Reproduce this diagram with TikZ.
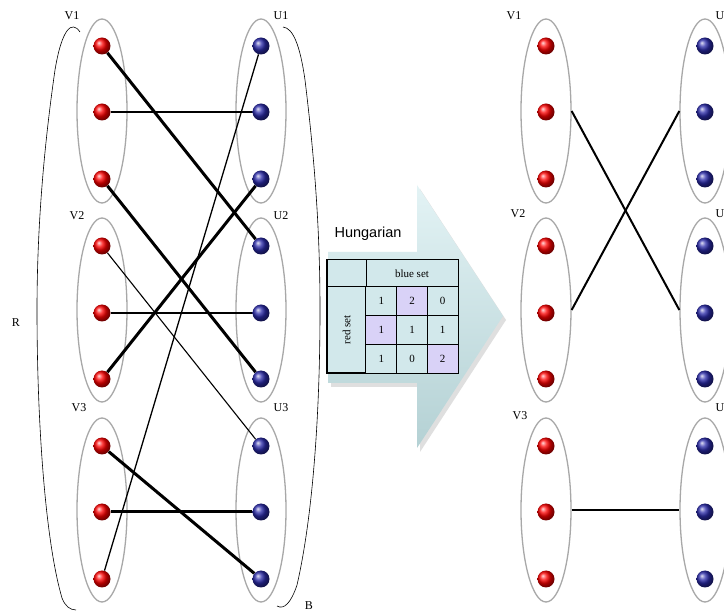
\documentclass[tikz,border=0pt]{standalone}
\usepackage{fontspec}
\setmainfont{Liberation Serif}
\newfontfamily\hungfont{Liberation Sans}
\usetikzlibrary{shapes.geometric}
\definecolor{ArrowTop}{HTML}{E3F3F5}
\definecolor{ArrowBot}{HTML}{B4D1D4}
\definecolor{CellBlue}{HTML}{D2E8EB}
\definecolor{CellLav}{HTML}{D9D2F7}
\definecolor{RimGray}{HTML}{A8A8A8}
\definecolor{DotBlue}{HTML}{2A2AAA}

\begin{document}
\begin{tikzpicture}[x=1pt,y=-1pt,every node/.style={font=\fontsize{12}{14}\selectfont},
  group/.style={ellipse,draw=RimGray,line width=1.3pt,fill=white,minimum width=50pt,minimum height=184pt,inner sep=0pt},
  reddot/.style={circle,shading=ball,ball color=red,minimum size=17pt,inner sep=0pt},
  bluedot/.style={circle,shading=ball,ball color=DotBlue,minimum size=17pt,inner sep=0pt},
  cell/.style={draw,line width=1pt,fill=CellBlue,minimum width=30.67pt,minimum height=28.67pt,inner sep=0pt,font=\fontsize{11}{13}\selectfont},
  pick/.style={cell,fill=CellLav}]
  \fill[white] (0,0) rectangle (724,612);
  \useasboundingbox (0,0) rectangle (724,612);

  % the two sets, before
  \node[group] (lV1) at (102,111) {};
  \node[group] (lV2) at (102,310) {};
  \node[group] (lV3) at (102,510) {};
  \node[group] (lU1) at (261,111) {};
  \node[group] (lU2) at (261,310) {};
  \node[group] (lU3) at (261,510) {};
  % after the assignment
  \node[group] (rV1) at (546,111) {};
  \node[group] (rV2) at (546,310) {};
  \node[group] (rV3) at (546,510) {};
  \node[group] (rU1) at (705,111) {};
  \node[group] (rU2) at (705,310) {};
  \node[group] (rU3) at (705,510) {};

  \foreach \y [count=\i] in {46,112,179,246,313,379,446,512,579} {
    \node[reddot] (lr\i) at (102,\y) {};
    \node[bluedot] (lb\i) at (261,\y) {};
    \node[reddot] (rr\i) at (546,\y) {};
    \node[bluedot] (rb\i) at (705,\y) {};
  }

  \node (tV1) at (72,16) {V1};
  \node (tV2) at (77,216) {V2};
  \node (tV3) at (79,408) {V3};
  \node (tU1) at (281,16) {U1};
  \node (tU2) at (281,216) {U2};
  \node (tU3) at (281,408) {U3};
  \node (sV1) at (514,16) {V1};
  \node (sV2) at (518,214) {V2};
  \node (sV3) at (520,416) {V3};
  \node (sU1) at (723,16) {U1};
  \node (sU2) at (723,214) {U2};
  \node (sU3) at (723,408) {U3};

  % brackets R and B
  \draw[line width=.6pt] (80,32) .. controls (72,20) and (62,28) .. (55,70)
    .. controls (42,160) and (37,240) .. (37,310)
    .. controls (37,420) and (45,540) .. (62,598)
    .. controls (65,606) and (70,610) .. (76,610);
  \draw[line width=.6pt] (283,27) .. controls (293,28) and (300,45) .. (305,80)
    .. controls (316,170) and (320,240) .. (320,310)
    .. controls (320,420) and (312,520) .. (297,585)
    .. controls (291,603) and (284,610) .. (277,606);
  \node (tR) at (16,323) {R};
  \node (tB) at (309,606) {B};

  % all weighted edges
  \draw[line width=3pt] (lr1) -- (lb4);
  \draw[line width=1.6pt] (lr2) -- (lb2);
  \draw[line width=3pt] (lr3) -- (lb6);
  \draw[line width=1.1pt] (lr4) -- (lb7);
  \draw[line width=1.6pt] (lr5) -- (lb5);
  \draw[line width=3pt] (lr6) -- (lb3);
  \draw[line width=3pt] (lr7) -- (lb9);
  \draw[line width=3pt] (lr8) -- (lb8);
  \draw[line width=1.3pt] (lr9) -- (lb1);

  % matched groups
  \draw[line width=2pt] (rV1.east) -- (rU2.west);
  \draw[line width=2pt] (rV2.east) -- (rU1.west);
  \draw[line width=2pt] (rV3.east) -- (rU3.west);

  % arrow with the cost table
  \fill[gray!25] (331,256) -- (420,256) -- (420,189) -- (506,320) -- (420,452) -- (420,387) -- (331,387) -- cycle;
  \shade[top color=ArrowTop,bottom color=ArrowBot] (328,252) -- (417,252) -- (417,185) -- (503,316) -- (417,448) -- (417,383) -- (328,383) -- cycle;
  \node[font=\hungfont\fontsize{14.5}{16}\selectfont] (hung) at (368,234) {Hungarian};

  \node[cell,minimum width=39pt,minimum height=27pt] (corner) at (346.5,273.5) {};
  \node[cell,minimum width=92pt,minimum height=27pt] (blueset) at (412,273.5) {blue set};
  \node[cell,minimum width=39pt,minimum height=86pt] (redset) at (346.5,330) {\rotatebox{90}{red set}};
  \node[cell] (c11) at (381.33,301.33) {1};
  \node[pick] (c12) at (412,301.33) {2};
  \node[cell] (c13) at (442.67,301.33) {0};
  \node[pick] (c21) at (381.33,330) {1};
  \node[cell] (c22) at (412,330) {1};
  \node[cell] (c23) at (442.67,330) {1};
  \node[cell] (c31) at (381.33,358.67) {1};
  \node[cell] (c32) at (412,358.67) {0};
  \node[pick] (c33) at (442.67,358.67) {2};
  \draw[line width=1.4pt] (corner.north west) rectangle (c33.south east);
\end{tikzpicture}
\end{document}
